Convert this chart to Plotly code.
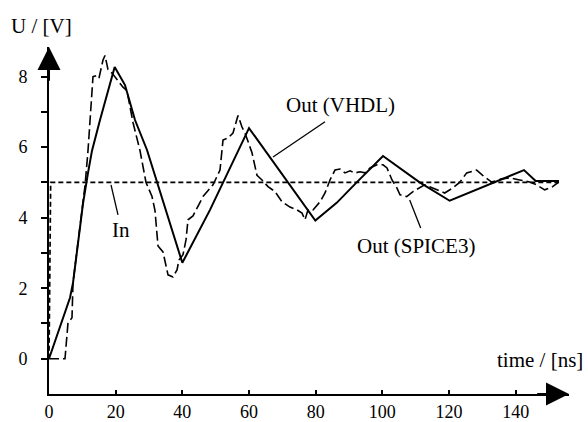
import plotly.graph_objects as go

# ---- data (time in ns, voltage in V) ----
in_t = [0, 0.5, 153]
in_u = [0, 5.0, 5.0]

vhdl_t = [0, 6.3, 7.2, 10.2, 11.7, 12.9, 15.3, 19.7, 22.8, 25.8, 29.4, 32.4, 40.0,
          48.3, 60.0, 79.9, 86.3, 92.3, 100.2, 111.2, 120.2, 142.5, 146.0, 153.0]
vhdl_u = [0, 1.73, 2.15, 4.4, 5.27, 5.9, 6.77, 8.27, 7.76, 6.77, 5.92, 5.0, 2.72,
          4.22, 6.54, 3.92, 4.42, 5.0, 5.75, 5.0, 4.48, 5.35, 5.04, 5.04]

spice_t = [0, 4.8, 5.7, 6.9, 7.2, 10.2, 10.8, 11.7, 13.2, 14.4, 15.0, 16.2, 16.8, 17.7,
           18.9, 22.2, 23.4, 25.2, 27.3, 29.1, 30.9, 31.8, 32.7, 34.2, 35.7, 37.2, 38.4,
           39.0, 40.2, 41.1, 41.7, 43.2, 45.3, 46.2, 49.2, 51.3, 52.2, 53.7, 55.2, 56.7,
           57.9, 58.8, 60.9, 62.4, 63.9, 65.7, 67.8, 69.9, 72.3, 74.4, 75.9, 76.8, 77.7,
           79.2, 81.3, 82.8, 84.3, 85.8, 87.3, 88.8, 90.3, 91.8, 93.3, 94.8, 96.3, 98.4,
           100.2, 101.4, 102.9, 104.4, 105.3, 107.3, 109.2, 111.2, 112.7, 114.2, 116.3,
           118.7, 121.1, 123.2, 125.3, 128.3, 130.1, 132.8, 135.8, 138.2, 141.2, 144.2,
           146.3, 148.7, 151.1, 152.9]
spice_u = [0, 0, 1.02, 1.16, 2.15, 4.4, 4.9, 5.9, 8.0, 8.03, 7.96, 8.47, 8.6, 8.2,
           8.1, 7.7, 7.6, 6.7, 5.9, 5.0, 4.6, 4.2, 3.2, 3.03, 2.38, 2.32, 2.52,
           2.8, 2.95, 3.37, 3.94, 4.05, 4.42, 4.6, 4.93, 5.35, 6.2, 6.26, 6.4, 6.9,
           6.57, 6.4, 5.84, 5.2, 5.07, 4.88, 4.74, 4.45, 4.3, 4.22, 4.13, 3.94, 4.22,
           4.22, 4.45, 4.7, 5.07, 5.35, 5.38, 5.27, 5.33, 5.27, 5.3, 5.27, 5.41, 5.5,
           5.5, 5.41, 5.07, 4.84, 4.65, 4.6, 4.74, 4.85, 4.93, 4.88, 4.8,
           4.7, 4.84, 5.0, 5.27, 5.35, 5.2, 5.01, 5.1, 5.13, 5.07, 5.01,
           4.93, 4.79, 4.88, 5.01]

x_ticks = [0, 20, 40, 60, 80, 100, 120, 140]
x_labels = ["0", "20", "40", "60", "80", "100", "120", "140"]
y_ticks = [0, 1, 2, 3, 4, 5, 6, 7, 8]
y_labels = ["0", "", "2", "", "4", "", "6", "", "8"]

X_RANGE = [0, 156]
Y_RANGE = [-1.0, 8.84]

FONT = "Liberation Serif"
FS = 21
TICK_FS = 18

fig = go.Figure()
fig.add_trace(go.Scatter(x=in_t, y=in_u, mode="lines", name="In",
                         line=dict(color="black", width=1.7, dash="5px,3px")))
fig.add_trace(go.Scatter(x=spice_t, y=spice_u, mode="lines", name="Out (SPICE3)",
                         line=dict(color="black", width=1.6, dash="10px,4px")))
fig.add_trace(go.Scatter(x=vhdl_t, y=vhdl_u, mode="lines", name="Out (VHDL)",
                         line=dict(color="black", width=2)))

# axis arrows
fig.add_annotation(x=X_RANGE[1], y=Y_RANGE[0], ax=X_RANGE[1] - 10, ay=Y_RANGE[0],
                   xref="x", yref="y", axref="x", ayref="y", text="",
                   showarrow=True, arrowhead=2, arrowsize=2.3, arrowwidth=2,
                   arrowcolor="black")
fig.add_annotation(x=0, y=Y_RANGE[1], ax=0, ay=Y_RANGE[1] - 1, xref="x", yref="y",
                   axref="x", ayref="y", text="", showarrow=True, arrowhead=2,
                   arrowsize=2.3, arrowwidth=2, arrowcolor="black")

# axis titles (paper coords)
fig.add_annotation(x=-0.0135, y=1.06, xref="paper", yref="paper", text="U / [V]",
                   xanchor="center", yanchor="middle",
                   showarrow=False, font=dict(family=FONT, size=FS, color="black"))
fig.add_annotation(x=0.944, y=0.098, xref="paper", yref="paper", text="time / [ns]",
                   xanchor="center", yanchor="middle",
                   showarrow=False, font=dict(family=FONT, size=FS, color="black"))

# curve labels
labels = [
    ("Out (VHDL)", 87.3, 7.2),
    ("Out (SPICE3)", 110.0, 3.2),
    ("In", 21.6, 3.65),
]
for txt, lx, ly in labels:
    fig.add_annotation(x=lx, y=ly, xref="x", yref="y", text=txt, showarrow=False,
                       xanchor="center", yanchor="middle",
                       font=dict(family=FONT, size=FS, color="black"))

# leader lines
leaders = [
    (82.8, 6.72, 67.2, 5.72),
    (108.2, 4.5, 111.5, 3.71),
    (18.6, 4.93, 20.7, 4.08),
]
for x0, y0, x1, y1 in leaders:
    fig.add_shape(type="line", x0=x0, y0=y0, x1=x1, y1=y1, xref="x", yref="y",
                  line=dict(color="black", width=1.3))

fig.update_layout(
    width=588, height=422,
    margin=dict(l=49, r=19, t=47, b=28, autoexpand=False),
    paper_bgcolor="white", plot_bgcolor="white",
    showlegend=False,
    font=dict(family=FONT, size=FS, color="black"),
    xaxis=dict(range=X_RANGE, tickvals=x_ticks, ticktext=x_labels,
               showline=True, linewidth=2, linecolor="black", mirror=False,
               ticks="inside", ticklen=4, tickwidth=1.5, tickcolor="black",
               showgrid=False, zeroline=False, ticklabelstandoff=0,
               tickfont=dict(family=FONT, size=TICK_FS, color="black"),
               automargin=False),
    yaxis=dict(range=Y_RANGE, tickvals=y_ticks, ticktext=y_labels,
               showline=True, linewidth=2, linecolor="black", mirror=False,
               ticks="outside", ticklen=6, tickwidth=1.5, tickcolor="black",
               showgrid=False, zeroline=False, ticklabelstandoff=10,
               tickfont=dict(family=FONT, size=TICK_FS, color="black"),
               automargin=False),
)

fig.write_html("out.html")
